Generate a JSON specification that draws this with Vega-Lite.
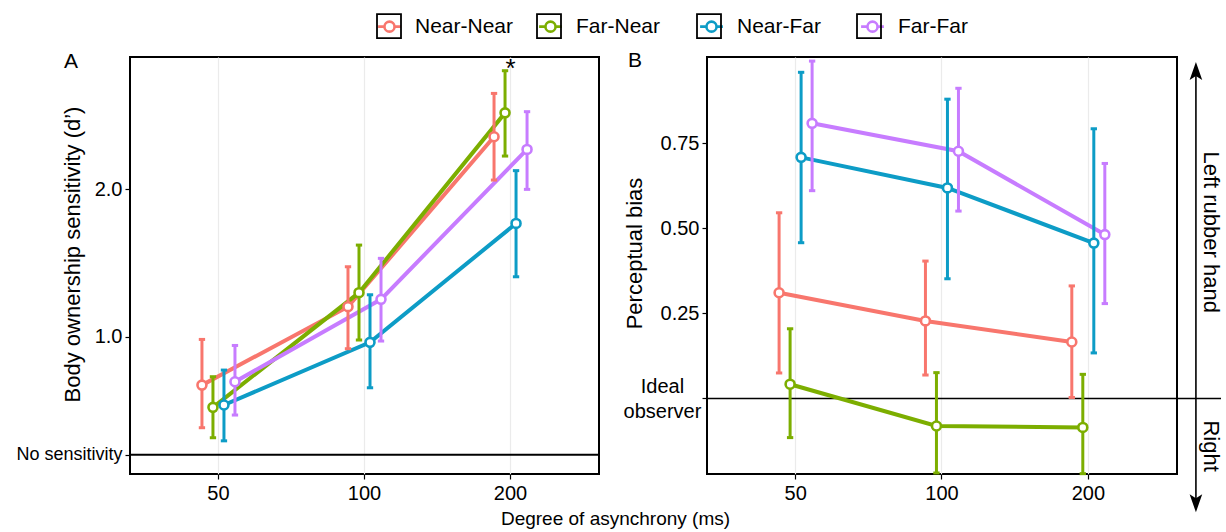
{
"$schema": "https://vega.github.io/schema/vega-lite/v6.json",
"padding": {"left": 14, "top": 13, "right": 2, "bottom": 2},
"config": {
 "font": "Liberation Sans",
 "view": {"stroke": "black", "strokeWidth": 2},
 "axis": {"labelFont": "Liberation Sans", "labelFontSize": 20, "labelColor": "black", "titleFont": "Liberation Sans", "titleFontSize": 22, "titleFontWeight": "normal", "titleColor": "black", "tickColor": "black", "tickSize": 5, "tickWidth": 1.2, "domain": false, "gridColor": "#EBEBEB", "gridWidth": 1.2, "labelPadding": 3},
 "legend": {"labelFont": "Liberation Sans", "labelFontSize": 21, "labelOffset": 12, "padding": 0, "symbolSize": 576, "gridAlign": "all"}
},
"datasets": {
 "A": [
  {"delay": 50, "cond": "Near-Near", "mean": 0.672, "lo": 0.383, "hi": 0.982},
  {"delay": 100, "cond": "Near-Near", "mean": 1.204, "lo": 0.919, "hi": 1.475},
  {"delay": 200, "cond": "Near-Near", "mean": 2.357, "lo": 2.063, "hi": 2.651},
  {"delay": 50, "cond": "Far-Near", "mean": 0.521, "lo": 0.315, "hi": 0.729},
  {"delay": 100, "cond": "Far-Near", "mean": 1.299, "lo": 0.978, "hi": 1.622},
  {"delay": 200, "cond": "Far-Near", "mean": 2.519, "lo": 2.226, "hi": 2.805},
  {"delay": 50, "cond": "Near-Far", "mean": 0.537, "lo": 0.294, "hi": 0.774},
  {"delay": 100, "cond": "Near-Far", "mean": 0.962, "lo": 0.654, "hi": 1.285},
  {"delay": 200, "cond": "Near-Far", "mean": 1.769, "lo": 1.407, "hi": 2.127},
  {"delay": 50, "cond": "Far-Far", "mean": 0.695, "lo": 0.469, "hi": 0.941},
  {"delay": 100, "cond": "Far-Far", "mean": 1.254, "lo": 0.971, "hi": 1.532},
  {"delay": 200, "cond": "Far-Far", "mean": 2.271, "lo": 2.0, "hi": 2.527}
 ],
 "B": [
  {"delay": 50, "cond": "Near-Near", "mean": 0.311, "lo": 0.075, "hi": 0.546},
  {"delay": 100, "cond": "Near-Near", "mean": 0.228, "lo": 0.069, "hi": 0.404},
  {"delay": 200, "cond": "Near-Near", "mean": 0.166, "lo": 0.003, "hi": 0.331},
  {"delay": 50, "cond": "Far-Near", "mean": 0.042, "lo": -0.115, "hi": 0.205},
  {"delay": 100, "cond": "Far-Near", "mean": -0.081, "lo": -0.219, "hi": 0.076},
  {"delay": 200, "cond": "Far-Near", "mean": -0.085, "lo": -0.221, "hi": 0.071},
  {"delay": 50, "cond": "Near-Far", "mean": 0.709, "lo": 0.458, "hi": 0.959},
  {"delay": 100, "cond": "Near-Far", "mean": 0.619, "lo": 0.352, "hi": 0.880},
  {"delay": 200, "cond": "Near-Far", "mean": 0.457, "lo": 0.134, "hi": 0.793},
  {"delay": 50, "cond": "Far-Far", "mean": 0.809, "lo": 0.611, "hi": 0.992},
  {"delay": 100, "cond": "Far-Far", "mean": 0.727, "lo": 0.551, "hi": 0.912},
  {"delay": 200, "cond": "Far-Far", "mean": 0.482, "lo": 0.279, "hi": 0.691}
 ]
},
"bounds": "flush",
"spacing": 108,
"hconcat": [
 {
  "width": 469, "height": 417,
  "title": {"text": "A", "anchor": "start", "frame": "group", "orient": "top", "offset": 0, "baseline": "middle", "dx": -66, "dy": 27, "fontSize": 21, "fontWeight": "normal", "font": "Liberation Sans", "color": "black"},
  "layer": [
   {"data": {"values": [{}]}, "mark": {"type": "rule", "color": "black", "strokeWidth": 2},
    "encoding": {"y": {"datum": 0.2, "type": "quantitative", "scale": {"domain": [0.069, 2.898], "nice": false, "zero": false},
      "axis": {"title": "Body ownership sensitivity (d’)", "values": [0.2, 0.564, 1, 1.5, 2, 2.5],
        "labelExpr": "datum.value == 0.2 ? 'No sensitivity' : ((datum.value == 1 || datum.value == 2) ? format(datum.value, '.1f') : '')",
        "labelFontSize": {"condition": {"test": "datum.value == 0.2", "value": 18}, "value": 20},
        "tickOpacity": {"condition": {"test": "datum.value == 0.564 || datum.value == 1.5 || datum.value == 2.5", "value": 0}, "value": 1},
        "gridWidth": {"condition": {"test": "datum.value == 0.564 || datum.value == 1.5 || datum.value == 2.5", "value": 0.7}, "value": 1.2},
        "titleX": -58, "titleY": 197, "titleAlign": "center", "titleBaseline": "middle", "titleAngle": 270}}}},
   {"data": {"name": "A"}, "mark": {"type": "line", "strokeWidth": 4},
    "encoding": {
     "x": {"field": "delay", "type": "ordinal", "scale": {"type": "band", "paddingInner": 0.6986, "paddingOuter": 0.455},
       "axis": {"title": "Degree of asynchrony (ms)", "titleFontSize": 19, "labelAngle": 0, "grid": true, "bandPosition": 0.5, "labelPadding": 4, "titleX": 485, "titleY": 35, "titleAlign": "center", "titleBaseline": "top"}},
     "xOffset": {"field": "cond", "type": "nominal", "scale": {"type": "band", "domain": ["Near-Near", "Far-Near", "Near-Far", "Far-Far"], "paddingInner": 0, "paddingOuter": 0}},
     "y": {"field": "mean", "type": "quantitative"},
     "color": {"field": "cond", "type": "nominal", "scale": {"domain": ["Near-Near", "Far-Near", "Near-Far", "Far-Far"], "range": ["#F8766D", "#7CAE00", "#0D9CC6", "#C77CFF"]}}}},
   {"data": {"name": "A"}, "mark": {"type": "rule", "strokeWidth": 3},
    "encoding": {
     "x": {"field": "delay", "type": "ordinal"},
     "xOffset": {"field": "cond", "type": "nominal"},
     "y": {"field": "lo", "type": "quantitative"}, "y2": {"field": "hi"},
     "color": {"field": "cond", "type": "nominal"}}},
   {"data": {"name": "A"}, "mark": {"type": "point", "shape": "stroke", "size": 40, "strokeWidth": 3, "opacity": 1},
    "encoding": {
     "x": {"field": "delay", "type": "ordinal"},
     "xOffset": {"field": "cond", "type": "nominal"},
     "y": {"field": "lo", "type": "quantitative"},
     "color": {"field": "cond", "type": "nominal"}}},
   {"data": {"name": "A"}, "mark": {"type": "point", "shape": "stroke", "size": 40, "strokeWidth": 3, "opacity": 1},
    "encoding": {
     "x": {"field": "delay", "type": "ordinal"},
     "xOffset": {"field": "cond", "type": "nominal"},
     "y": {"field": "hi", "type": "quantitative"},
     "color": {"field": "cond", "type": "nominal"}}},
   {"data": {"name": "A"}, "mark": {"type": "point", "shape": "circle", "filled": false, "fill": "white", "fillOpacity": 1, "size": 80, "strokeWidth": 2.6, "opacity": 1},
    "encoding": {
     "x": {"field": "delay", "type": "ordinal"},
     "xOffset": {"field": "cond", "type": "nominal"},
     "y": {"field": "mean", "type": "quantitative"},
     "color": {"field": "cond", "type": "nominal",
       "legend": {"title": null, "orient": "none", "direction": "horizontal", "legendX": 246, "legendY": -44,
         "symbolType": "M-0.95,0L-0.42,0M0.42,0L0.95,0M0,-0.42A0.42,0.42,0,1,1,0,0.42A0.42,0.42,0,1,1,0,-0.42Z",
         "symbolSize": 576, "symbolStrokeWidth": 2.6, "symbolOpacity": 1, "symbolFillColor": "white", "labelFontSize": 21, "labelColor": "black",
         "labelOffset": 12, "columnPadding": 19, "gridAlign": "all", "padding": 0}}}},
   {"data": {"name": "A"}, "transform": [{"calculate": "datum.cond + ' '", "as": "key"}],
    "mark": {"type": "point", "filled": false, "color": "black", "opacity": 0},
    "encoding": {
     "x": {"field": "delay", "type": "ordinal"},
     "y": {"field": "mean", "type": "quantitative"},
     "shape": {"field": "key", "type": "nominal", "scale": {"domain": ["Near-Near ", "Far-Near ", "Near-Far ", "Far-Far "], "range": ["square", "square", "square", "square"]},
       "legend": {"title": null, "orient": "none", "direction": "horizontal", "legendX": 246, "legendY": -44,
         "labelExpr": "''",
         "symbolSize": 576, "symbolStrokeWidth": 1.8, "symbolStrokeColor": "black", "symbolFillColor": "transparent", "symbolOpacity": 1,
         "labelFontSize": 21, "labelOffset": 12, "columnPadding": 119, "gridAlign": "all", "padding": 0}}}},
   {"data": {"values": [{}]}, "mark": {"type": "text", "text": "*", "fontSize": 26, "align": "center", "baseline": "alphabetic", "color": "black", "font": "Liberation Sans"},
    "encoding": {"x": {"datum": 200, "type": "ordinal"}, "y": {"datum": 2.764, "type": "quantitative"}}}
  ]
 },
 {
  "bounds": "flush",
  "spacing": 0,
  "hconcat": [
   {
    "width": 470, "height": 417,
    "title": {"text": "B", "anchor": "start", "frame": "group", "orient": "top", "offset": 0, "baseline": "middle", "dx": -79, "dy": 27, "fontSize": 21, "fontWeight": "normal", "font": "Liberation Sans", "color": "black"},
    "layer": [
     {"data": {"values": [{}]}, "mark": {"type": "rule", "color": "black", "strokeWidth": 1.6},
      "encoding": {"y": {"datum": 0, "type": "quantitative", "scale": {"domain": [-0.222, 1.004], "nice": false, "zero": false},
        "axis": {"title": "Perceptual bias", "values": [0, 0.25, 0.5, 0.75],
          "labelExpr": "datum.value == 0 ? ['Ideal', 'observer'] : format(datum.value, '.2f')",
          "labelAlign": {"condition": {"test": "datum.value == 0", "value": "center"}, "value": "right"},
          "labelPadding": {"condition": {"test": "datum.value == 0", "value": 40}, "value": 3},
          "labelOffset": {"condition": {"test": "datum.value == 0", "value": -12}, "value": 0},
          "labelLineHeight": 25,
          "titleX": -73, "titleY": 196, "titleAlign": "center", "titleBaseline": "middle", "titleAngle": 270}}}},
     {"data": {"name": "B"}, "mark": {"type": "line", "strokeWidth": 4},
      "encoding": {
       "x": {"field": "delay", "type": "ordinal", "scale": {"type": "band", "paddingInner": 0.6986, "paddingOuter": 0.455},
         "axis": {"title": null, "labelAngle": 0, "grid": true, "bandPosition": 0.5, "labelPadding": 4}},
       "xOffset": {"field": "cond", "type": "nominal", "scale": {"type": "band", "domain": ["Near-Near", "Far-Near", "Near-Far", "Far-Far"], "paddingInner": 0, "paddingOuter": 0}},
       "y": {"field": "mean", "type": "quantitative"},
       "color": {"field": "cond", "type": "nominal"}}},
     {"data": {"name": "B"}, "mark": {"type": "rule", "strokeWidth": 3},
      "encoding": {
       "x": {"field": "delay", "type": "ordinal"},
       "xOffset": {"field": "cond", "type": "nominal"},
       "y": {"field": "lo", "type": "quantitative"}, "y2": {"field": "hi"},
       "color": {"field": "cond", "type": "nominal"}}},
     {"data": {"name": "B"}, "mark": {"type": "point", "shape": "stroke", "size": 40, "strokeWidth": 3, "opacity": 1},
      "encoding": {
       "x": {"field": "delay", "type": "ordinal"},
       "xOffset": {"field": "cond", "type": "nominal"},
       "y": {"field": "lo", "type": "quantitative"},
       "color": {"field": "cond", "type": "nominal"}}},
     {"data": {"name": "B"}, "mark": {"type": "point", "shape": "stroke", "size": 40, "strokeWidth": 3, "opacity": 1},
      "encoding": {
       "x": {"field": "delay", "type": "ordinal"},
       "xOffset": {"field": "cond", "type": "nominal"},
       "y": {"field": "hi", "type": "quantitative"},
       "color": {"field": "cond", "type": "nominal"}}},
     {"data": {"name": "B"}, "mark": {"type": "point", "shape": "circle", "filled": false, "fill": "white", "fillOpacity": 1, "size": 80, "strokeWidth": 2.6, "opacity": 1},
      "encoding": {
       "x": {"field": "delay", "type": "ordinal"},
       "xOffset": {"field": "cond", "type": "nominal"},
       "y": {"field": "mean", "type": "quantitative"},
       "color": {"field": "cond", "type": "nominal"}}}
    ]
   },
   {
    "width": 44, "height": 417,
    "view": {"stroke": null},
    "data": {"values": [{}]},
    "layer": [
     {"mark": {"type": "rule", "color": "black", "strokeWidth": 1.6},
      "encoding": {"x": {"datum": 0.43, "type": "quantitative", "scale": {"domain": [0, 1], "nice": false, "zero": false}, "axis": null},
        "y": {"datum": -0.308, "type": "quantitative", "scale": {"domain": [-0.222, 1.004], "nice": false, "zero": false}, "axis": null},
        "y2": {"datum": 0.963}}},
     {"mark": {"type": "rule", "color": "black", "strokeWidth": 1.6},
      "encoding": {"y": {"datum": 0, "type": "quantitative"}}},
     {"mark": {"type": "point", "shape": "M0,-1L0.7,1L0,0.55L-0.7,1Z", "filled": true, "color": "black", "size": 324, "opacity": 1},
      "encoding": {"x": {"datum": 0.43, "type": "quantitative"}, "y": {"datum": 0.963, "type": "quantitative"}}},
     {"mark": {"type": "point", "shape": "M0,1L0.7,-1L0,-0.55L-0.7,-1Z", "filled": true, "color": "black", "size": 324, "opacity": 1},
      "encoding": {"x": {"datum": 0.43, "type": "quantitative"}, "y": {"datum": -0.308, "type": "quantitative"}}},
     {"mark": {"type": "text", "text": "Left rubber hand", "angle": 90, "fontSize": 22, "align": "center", "baseline": "middle", "color": "black", "font": "Liberation Sans"},
      "encoding": {"x": {"datum": 0.77, "type": "quantitative"}, "y": {"datum": 0.489, "type": "quantitative"}}},
     {"mark": {"type": "text", "text": "Right", "angle": 90, "fontSize": 22, "align": "center", "baseline": "middle", "color": "black", "font": "Liberation Sans"},
      "encoding": {"x": {"datum": 0.77, "type": "quantitative"}, "y": {"datum": -0.14, "type": "quantitative"}}}
    ]
   }
  ]
 }
]
}
